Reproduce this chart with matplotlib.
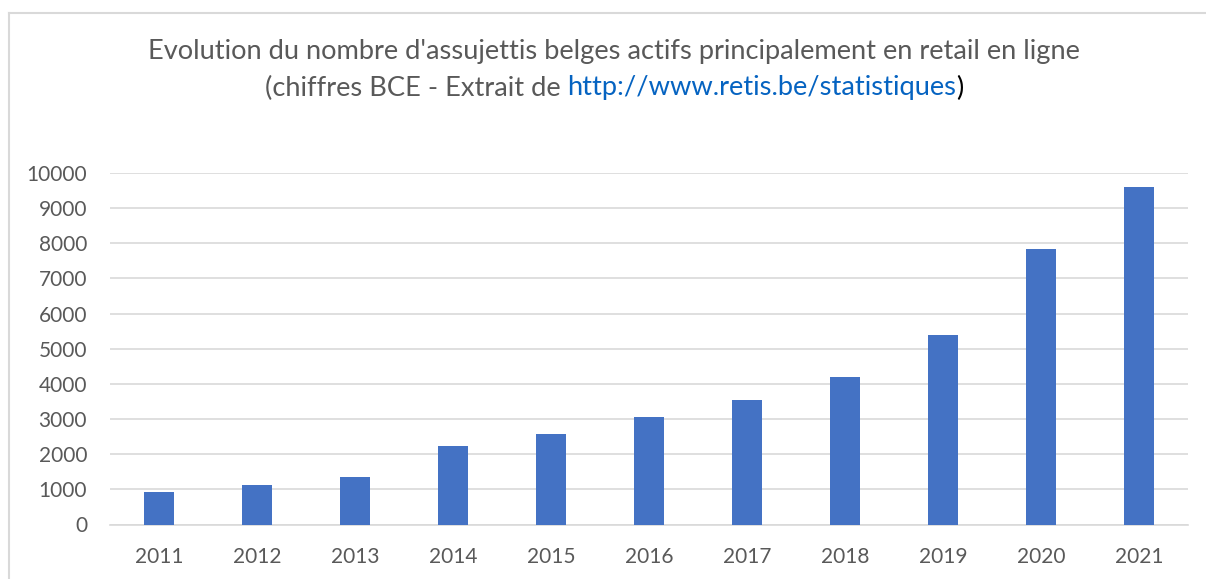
import matplotlib
matplotlib.use("Agg")
import matplotlib.pyplot as plt
from matplotlib.lines import Line2D

years = ["2011", "2012", "2013", "2014", "2015", "2016", "2017", "2018", "2019", "2020", "2021"]
values = [920, 1120, 1350, 2220, 2580, 3060, 3555, 4210, 5405, 7830, 9615]
yticks = [0, 1000, 2000, 3000, 4000, 5000, 6000, 7000, 8000, 9000, 10000]

title1 = "Evolution du nombre d'assujettis belges actifs principalement en retail en ligne"
title2_parts = ["(chiffres BCE - Extrait de ", "http://www.retis.be/statistiques", ")"]
title2_colors = ["#595959", "#0563C1", "#000000"]

plt.rcParams['font.family'] = ['Lato', 'DejaVu Sans']

W, H = 1206, 579
fig = plt.figure(figsize=(W / 100, H / 100), dpi=100)

# outer chart border (top and left visible)
fig.add_artist(Line2D([8.5 / W, 8.5 / W], [0, 1 - 12.5 / H], color="#D9D9D9", lw=1.5))
fig.add_artist(Line2D([8.5 / W, 1], [1 - 12.5 / H, 1 - 12.5 / H], color="#D9D9D9", lw=1.5))

x0, x1 = 110, 1188
y0, y1 = 524.5, 173.0
ax = fig.add_axes([x0 / W, (H - y0) / H, (x1 - x0) / W, (y0 - y1) / H])
ax.set_xlim(-0.5, len(years) - 0.5)
ax.set_ylim(0, 10000)

ax.bar(range(len(years)), values, width=0.31, color="#4472C4", zorder=3)

ax.set_yticks(yticks)
ax.set_yticklabels([str(v) for v in yticks])
ax.set_xticks(range(len(years)))
ax.set_xticklabels(years)
ax.grid(axis="y", color="#D9D9D9", lw=1.2, zorder=0)
for s in ["top", "right", "left"]:
    ax.spines[s].set_visible(False)
ax.spines["bottom"].set_color("#D9D9D9")
ax.spines["bottom"].set_linewidth(1.2)
ax.tick_params(axis="both", length=0, labelsize=15, colors="#595959")
ax.tick_params(axis="y", pad=16.5)
ax.tick_params(axis="x", pad=16)

fig.text(613.5 / W, 1 - 52 / H, title1, ha="center", va="center", fontsize=19.6, color="#595959")

# second title line with mixed colours, centred
texts = []
for p, c in zip(title2_parts, title2_colors):
    texts.append(fig.text(0, 1 - 88 / H, p, ha="left", va="center", fontsize=19.6, color=c))
fig.canvas.draw()
r = fig.canvas.get_renderer()
widths = [t.get_window_extent(r).width for t in texts]
total = sum(widths)
start = 614 - total / 2
for t, w in zip(texts, widths):
    t.set_x(start / W)
    start += w

fig.savefig("out.png", dpi=100)
